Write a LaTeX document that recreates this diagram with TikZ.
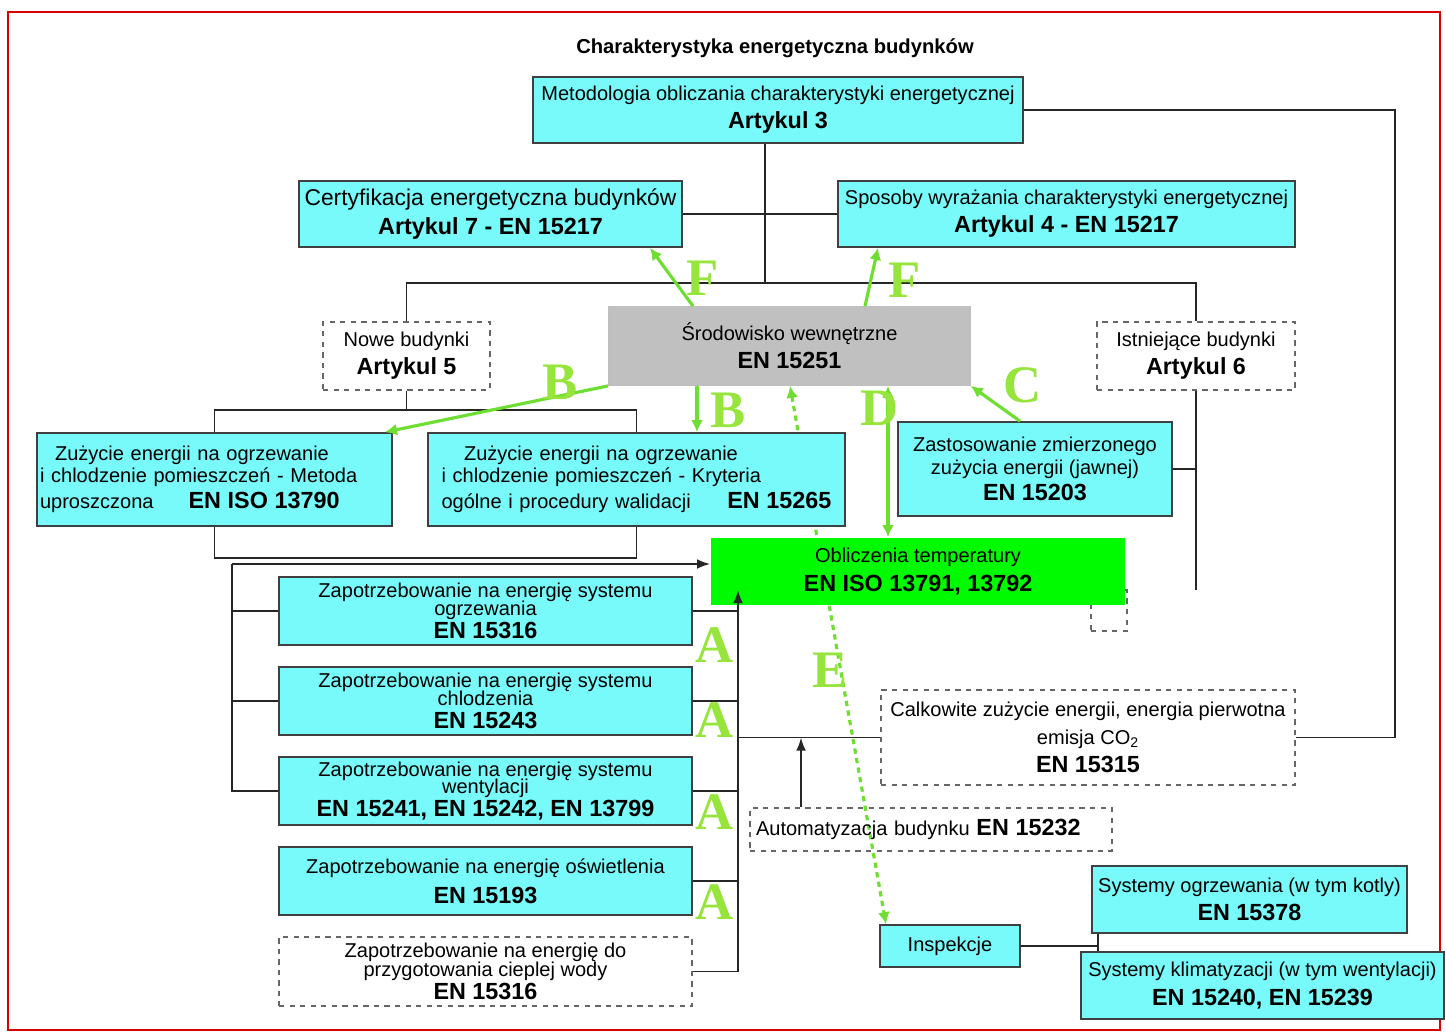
\documentclass[tikz,border=0pt]{standalone}
\usepackage{fontspec}
\setmainfont{Liberation Sans}
\newfontfamily\letterfont{Liberation Serif}
\usetikzlibrary{arrows.meta,backgrounds}
\definecolor{cyanbox}{RGB}{120,250,250}
\definecolor{greybox}{RGB}{192,192,192}
\definecolor{limebox}{RGB}{0,250,0}
\definecolor{arrgreen}{RGB}{110,222,50}
\definecolor{letgreen}{RGB}{150,228,60}
\newcommand\boxfont{\fontsize{11.4}{16}\selectfont}
\newcommand\ennum[1]{{\fontsize{13.3}{16}\selectfont\bfseries #1}}
\begin{document}
\begin{tikzpicture}[x=0.02cm,y=-0.02cm,
    box/.style={draw=black!75, line width=1pt, fill=cyanbox, align=center, inner sep=1pt, font=\boxfont},
    dbox/.style={draw=black!60, dashed, line width=0.8pt, align=center, inner sep=1pt, font=\boxfont},
    link/.style={draw=black!85, line width=1.1pt},
    garrow/.style={draw=arrgreen, line width=1.8pt, -{Latex[length=2.4mm,width=2.4mm]}},
    glabel/.style={text=letgreen, font=\fontsize{30}{30}\selectfont\letterfont\bfseries}]
  \useasboundingbox (0,0) rectangle (1446,1035);
  \draw[red!85!black, line width=1.2pt] (8,12) rectangle (1440,1030);
  \node[font=\fontsize{11.5}{14}\selectfont\bfseries] (title) at (775,48) {Charakterystyka energetyczna budynków};

  \node[box, minimum width=9.8cm, minimum height=1.32cm] (meto) at (778,110)
    {Metodologia obliczania charakterystyki energetycznej\\ \ennum{Artykul 3}};
  \node[box, minimum width=7.66cm, minimum height=1.32cm] (cert) at (490.5,214)
    {{\fontsize{13}{16}\selectfont Certyfikacja energetyczna budynków}\\ \ennum{Artykul 7 - EN 15217}};
  \node[box, minimum width=9.14cm, minimum height=1.32cm] (spos) at (1066.5,214)
    {Sposoby wyrażania charakterystyki energetycznej\\ \ennum{Artykul 4 - EN 15217}};
  \node[dbox, minimum width=3.34cm, minimum height=1.36cm] (nowe) at (406.5,356)
    {Nowe budynki\\ \ennum{Artykul 5}};
  \node[box, draw=black!25, fill=greybox, minimum width=7.22cm, minimum height=1.56cm] (srod) at (789.5,346)
    {Środowisko wewnętrzne\\ \ennum{EN 15251}};
  \node[dbox, minimum width=3.96cm, minimum height=1.36cm] (istn) at (1196,356)
    {Istniejące budynki\\ \ennum{Artykul 6}};
  \node[box, align=left, text width=6.98cm, minimum width=7.1cm, minimum height=1.86cm] (zuza) at (214.5,479.5)
    {\hspace*{0.3cm}Zużycie energii na ogrzewanie\\[-3.5pt] i chlodzenie pomieszczeń - Metoda\\[-1pt] uproszczona\hspace{0.7cm}\ennum{EN ISO 13790}};
  \node[box, align=left, text width=7.8cm, minimum width=8.34cm, minimum height=1.86cm] (zuzb) at (636.5,479.5)
    {\hspace*{0.45cm}Zużycie energii na ogrzewanie\\[-3.5pt] i chlodzenie pomieszczeń - Kryteria\\[-1pt] ogólne i procedury walidacji\hfill\ennum{EN 15265}};
  \node[box, minimum width=5.48cm, minimum height=1.88cm] (zast) at (1035,469)
    {Zastosowanie zmierzonego\\[-3pt] zużycia energii (jawnej)\\[-0.7pt] \ennum{EN 15203}};
  \node[dbox, minimum width=0.72cm, minimum height=0.82cm] (tail) at (1109,610.5) {};
  \node[box, draw=none, fill=limebox, minimum width=8.28cm, minimum height=1.34cm] (oblicz) at (918,571.5)
    {Obliczenia temperatury\\ \ennum{EN ISO 13791, 13792}};

  \node[box, minimum width=8.26cm, minimum height=1.36cm] (zap1) at (485.5,611)
    {Zapotrzebowanie na energię systemu\\[-6pt] ogrzewania\\[-3pt] \ennum{EN 15316}};
  \node[box, minimum width=8.26cm, minimum height=1.36cm] (zap2) at (485.5,701)
    {Zapotrzebowanie na energię systemu\\[-6pt] chlodzenia\\[-3pt] \ennum{EN 15243}};
  \node[box, minimum width=8.26cm, minimum height=1.36cm] (zap3) at (485.5,791)
    {Zapotrzebowanie na energię systemu\\[-6pt] wentylacji\\[-3pt] \ennum{EN 15241, EN 15242, EN 13799}};
  \node[box, minimum width=8.26cm, minimum height=1.36cm] (zap4) at (485.5,881)
    {Zapotrzebowanie na energię oświetlenia\\[1pt] \ennum{EN 15193}};
  \node[dbox, minimum width=8.26cm, minimum height=1.38cm] (zap5) at (485.5,971.5)
    {Zapotrzebowanie na energię do\\[-5.5pt] przygotowania cieplej wody\\[-2.5pt] \ennum{EN 15316}};

  \node[dbox, minimum width=8.28cm, minimum height=1.9cm] (calk) at (1088,737.5)
    {Calkowite zużycie energii, energia pierwotna\\ emisja CO\textsubscript{2}\\ \ennum{EN 15315}};
  \node[dbox, align=left, text width=7.0cm, minimum width=7.24cm, minimum height=0.86cm] (auto) at (931,829.5)
    {Automatyzacja budynku \ennum{EN 15232}};
  \node[box, minimum width=2.8cm, minimum height=0.84cm] (insp) at (950,946) {Inspekcje};
  \node[box, minimum width=6.3cm, minimum height=1.34cm] (syso) at (1249.5,899.5)
    {Systemy ogrzewania (w tym kotly)\\ \ennum{EN 15378}};
  \node[box, minimum width=7.26cm, minimum height=1.34cm] (sysk) at (1262.5,985.5)
    {Systemy klimatyzacji (w tym wentylacji)\\ \ennum{EN 15240, EN 15239}};

  % black connectors
  \coordinate (hub) at (765,283);
  \coordinate (split) at (406.5,410);
  \coordinate (join) at (430,558);
  \coordinate (lbus) at (232,564);
  \coordinate (rtop) at (738,590);
  \coordinate (autox) at (801,737.5);
  \coordinate (rframe) at (1395,737.5);
  \coordinate (istend) at (1196,590);
  \coordinate (sysj) at (1098,946);
  \draw[link] (meto.south -| hub) -- (hub);
  \draw[link] (cert.east) -- (spos.west);
  \draw[link] (nowe.north) |- (hub) -| (istn.north);
  \draw[link] (nowe.south) -- (split);
  \draw[link] (zuza.north) |- (split) -| (zuzb.north);
  \draw[link] (zuza.south) |- (join) -| (zuzb.south);
  \draw[link, -{Latex[length=2.6mm]}] (lbus) -- (lbus -| oblicz.west);
  \draw[link] (lbus) |- (zap3.west);
  \foreach \n in {1,2}
    \draw[link] (zap\n.west) -- (zap\n.west -| lbus);
  \draw[link, -{Latex[length=2.6mm]}] (zap5.east) -| (rtop);
  \foreach \n in {1,2,3,4}
    \draw[link] (zap\n.east) -- (zap\n.east -| rtop);
  \draw[link] (calk.west -| rtop) -- (calk.west);
  \draw[link, -{Latex[length=2.6mm]}] (auto.north -| autox) -- (autox);
  \draw[link] (meto.east) -| (rframe) -- (calk.east);
  \draw[link] (istn.south) -- (istend);
  \draw[link] (zast.east) -- (zast.east -| istend);
  \draw[link] (insp.east) -- (sysj);
  \draw[link] (syso.south -| sysj) -- (sysk.north -| sysj);

  % green links
  \begin{scope}[on background layer]
    \draw[garrow, {Latex[length=2.4mm,width=2.4mm]}-{Latex[length=2.4mm,width=2.4mm]}, dash pattern=on 3pt off 2.5pt]
      (srod.south -| 790,0) -- (insp.north -| 886,0);
  \end{scope}
  \draw[garrow] (srod.north -| 693,0) -- (cert.south -| 650,0);
  \draw[garrow] (srod.north -| 865,0) -- (spos.south -| 878,0);
  \draw[garrow] (srod.south west) -- (zuza.north -| 385,0);
  \draw[garrow] (srod.south -| 697,0) -- (zuzb.north -| 697,0);
  \draw[garrow] (zast.north -| 1020,0) -- (srod.south east);
  \draw[garrow, {Latex[length=2.4mm,width=2.4mm]}-{Latex[length=2.4mm,width=2.4mm]}]
    (srod.south -| 888,0) -- (oblicz.north -| 888,0);

  \node[glabel] (lf1) at (703,278) {F};
  \node[glabel] (lf2) at (905,280) {F};
  \node[glabel] (lb1) at (560,382) {B};
  \node[glabel] (lb2) at (728,410) {B};
  \node[glabel] (lc) at (1023,385) {C};
  \node[glabel] (ld) at (880,408) {D};
  \node[glabel] (le) at (830,670) {E};
  \foreach \y [count=\i] in {645,720,812,902}
    \node[glabel] (la\i) at (715,\y) {A};
\end{tikzpicture}
\end{document}
